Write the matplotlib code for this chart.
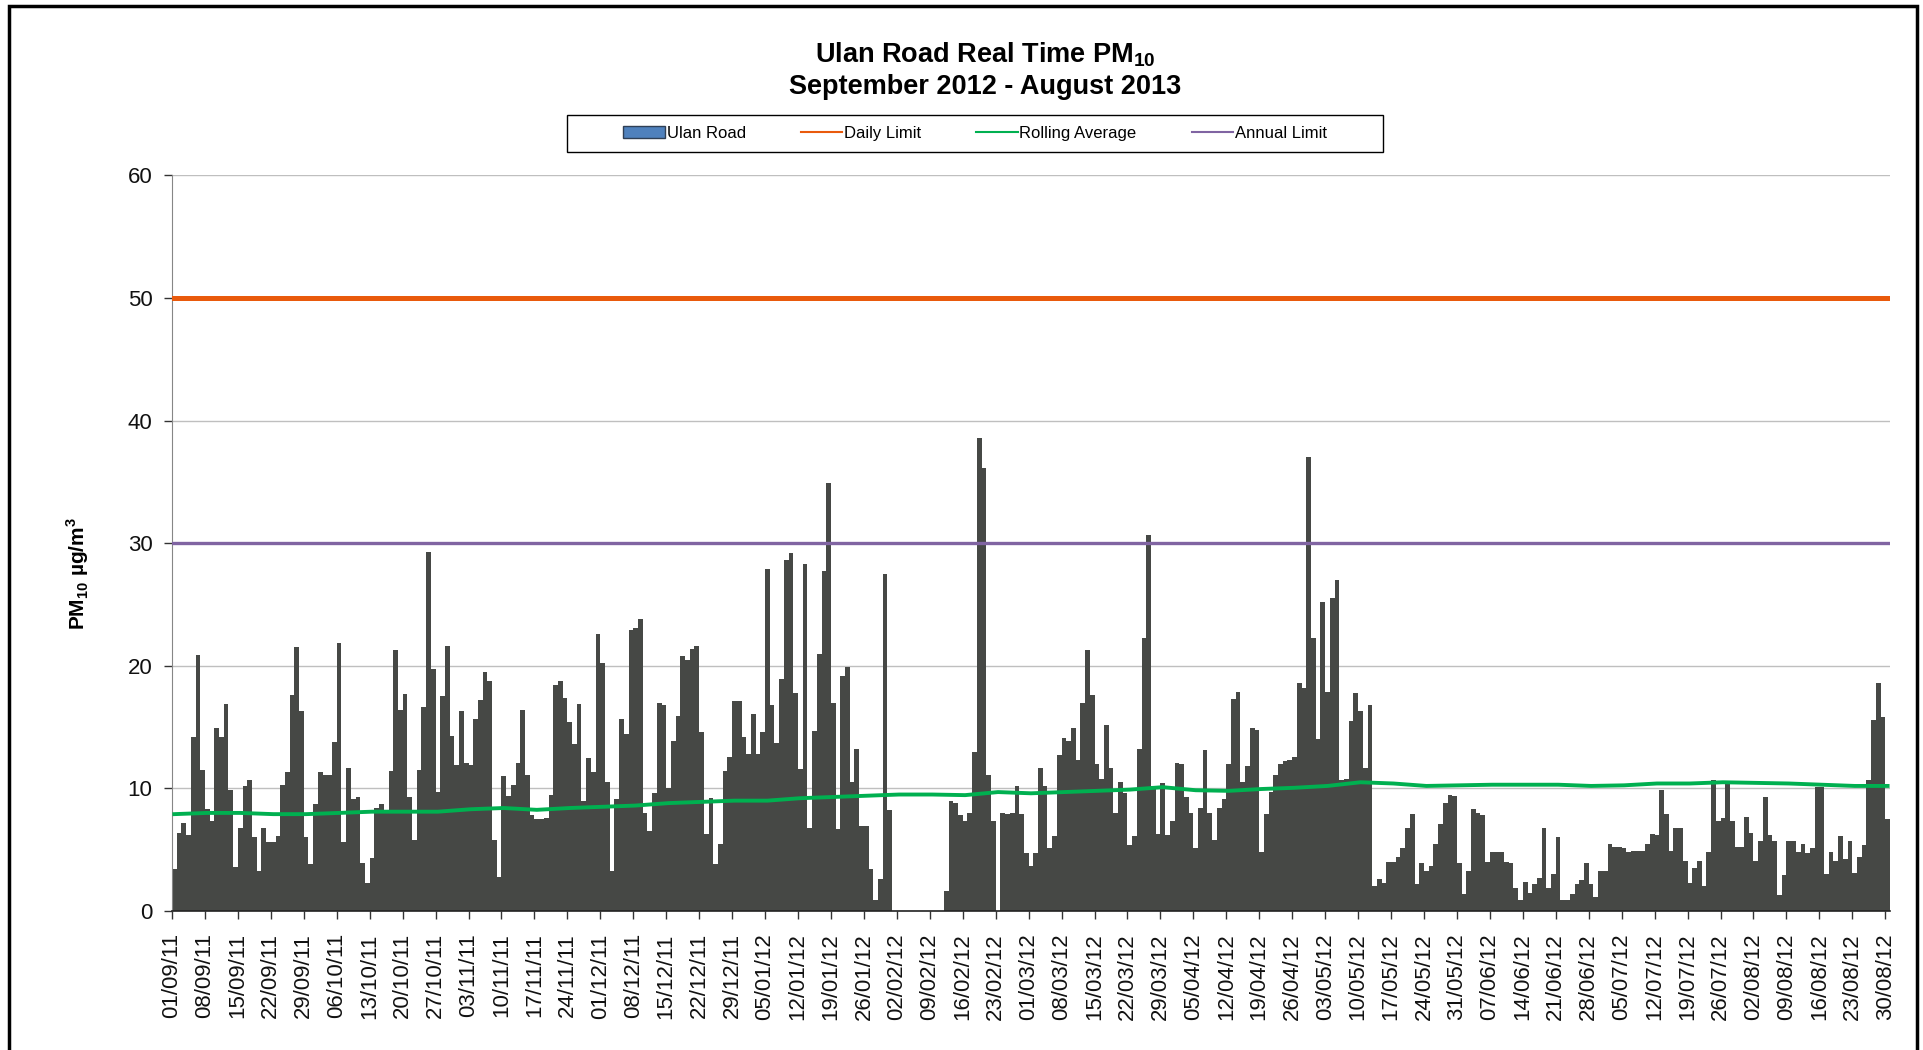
import numpy as np
import matplotlib
matplotlib.use("Agg")
from matplotlib import pyplot as plt
from matplotlib.patches import Rectangle, Patch
from matplotlib.lines import Line2D

plt.rcParams['font.family'] = ['Liberation Sans', 'DejaVu Sans']
plt.rcParams['mathtext.fontset'] = 'custom'
plt.rcParams['mathtext.rm'] = 'Liberation Sans'
plt.rcParams['mathtext.bf'] = 'Liberation Sans:bold'

nan = np.nan

# daily PM10 readings, 01/09/11 .. 30/08/12 (nan = no data)
ulan_road = [
    3.4, 6.4, 7.2, 6.2, 14.2, 20.9, 11.5, 8.3, 7.3, 14.9,
    14.2, 16.9, 9.9, 3.6, 6.8, 10.2, 10.7, 6.0, 3.3, 6.8,
    5.6, 5.6, 6.1, 10.3, 11.3, 17.6, 21.5, 16.3, 6.0, 3.8,
    8.7, 11.3, 11.1, 11.1, 13.8, 21.9, 5.6, 11.7, 9.1, 9.3,
    3.9, 2.3, 4.3, 8.4, 8.7, 8.0, 11.4, 21.3, 16.4, 17.7,
    9.3, 5.8, 11.5, 16.6, 29.3, 19.7, 9.7, 17.5, 21.6, 14.3,
    11.9, 16.3, 12.1, 11.9, 15.7, 17.2, 19.5, 18.8, 5.8, 2.8,
    11.0, 9.4, 10.3, 12.1, 16.4, 11.1, 7.8, 7.5, 7.5, 7.6,
    9.5, 18.4, 18.8, 17.4, 15.4, 13.6, 16.9, 9.0, 12.5, 11.3,
    22.6, 20.2, 10.5, 3.3, 9.1, 15.7, 14.4, 22.9, 23.1, 23.8,
    8.0, 6.5, 9.6, 17.0, 16.8, 10.0, 13.9, 15.9, 20.8, 20.5,
    21.4, 21.6, 14.6, 6.3, 9.2, 3.8, 5.5, 11.4, 12.6, 17.1,
    17.1, 14.2, 12.8, 16.1, 12.8, 14.6, 27.9, 16.8, 13.7, 18.9,
    28.6, 29.2, 17.8, 11.6, 28.3, 6.8, 14.7, 21.0, 27.7, 34.9,
    17.0, 6.7, 19.2, 19.9, 10.5, 13.2, 6.9, 6.9, 3.4, 0.9,
    2.6, 27.5, 8.2, nan, nan, nan, nan, nan, nan, nan,
    nan, nan, nan, nan, 1.6, 9.0, 8.8, 7.8, 7.3, 8.0,
    13.0, 38.6, 36.1, 11.1, 7.3, nan, 8.0, 7.9, 8.0, 10.2,
    7.9, 4.7, 3.7, 4.7, 11.7, 10.2, 5.1, 6.1, 12.7, 14.1,
    13.9, 14.9, 12.3, 17.0, 21.3, 17.6, 12.0, 10.8, 15.2, 11.7,
    8.0, 10.5, 9.6, 5.4, 6.1, 13.2, 22.3, 30.7, 10.2, 6.3,
    10.4, 6.2, 7.3, 12.1, 12.0, 9.3, 8.0, 5.1, 8.4, 13.1,
    8.0, 5.8, 8.4, 9.1, 12.0, 17.3, 17.9, 10.5, 11.8, 14.9,
    14.8, 4.8, 7.9, 9.7, 11.1, 12.0, 12.2, 12.3, 12.6, 18.6,
    18.2, 37.0, 22.3, 14.0, 25.2, 17.9, 25.5, 27.0, 10.7, 10.8,
    15.5, 17.8, 16.3, 11.7, 16.8, 2.0, 2.6, 2.3, 4.0, 4.0,
    4.4, 5.1, 6.8, 7.9, 2.2, 3.9, 3.3, 3.7, 5.5, 7.1,
    8.8, 9.5, 9.4, 3.9, 1.4, 3.3, 8.3, 8.0, 7.8, 4.0,
    4.8, 4.8, 4.8, 4.0, 3.9, 1.9, 0.9, 2.4, 1.5, 2.2,
    2.7, 6.8, 1.9, 3.0, 6.0, 0.9, 0.9, 1.4, 2.2, 2.5,
    3.9, 2.2, 1.1, 3.3, 3.3, 5.5, 5.2, 5.2, 5.1, 4.8,
    4.9, 4.9, 4.9, 5.5, 6.3, 6.2, 9.9, 7.9, 4.9, 6.8,
    6.8, 4.1, 2.3, 3.5, 4.1, 2.0, 4.8, 10.7, 7.3, 7.6,
    10.4, 7.3, 5.2, 5.2, 7.7, 6.4, 4.1, 5.7, 9.3, 6.2,
    5.7, 1.3, 2.9, 5.7, 5.7, 4.8, 5.5, 4.7, 5.1, 10.1,
    10.1, 3.0, 4.8, 4.1, 6.1, 4.2, 5.7, 3.1, 4.4, 5.4,
    10.7, 15.6, 18.6, 15.8, 7.5,
]

# rolling average read once a week (same days as the tick labels)
rolling_avg = [
    7.9, 8.0, 8.0, 7.9, 7.9, 8.0, 8.1, 8.1, 8.1, 8.3,
    8.4, 8.25, 8.4, 8.5, 8.6, 8.8, 8.9, 9.0, 9.0, 9.2,
    9.3, 9.4, 9.5, 9.5, 9.45, 9.7, 9.6, 9.7, 9.8, 9.9,
    10.1, 9.85, 9.8, 9.95, 10.05, 10.2, 10.5, 10.4, 10.2, 10.25,
    10.3, 10.3, 10.3, 10.2, 10.25, 10.4, 10.4, 10.5, 10.45, 10.4,
    10.3, 10.2, 10.2,
]

daily_limit = 50
annual_limit = 30

tick_labels = [
    "01/09/11", "08/09/11", "15/09/11", "22/09/11", "29/09/11", "06/10/11",
    "13/10/11", "20/10/11", "27/10/11", "03/11/11", "10/11/11", "17/11/11",
    "24/11/11", "01/12/11", "08/12/11", "15/12/11", "22/12/11", "29/12/11",
    "05/01/12", "12/01/12", "19/01/12", "26/01/12", "02/02/12", "09/02/12",
    "16/02/12", "23/02/12", "01/03/12", "08/03/12", "15/03/12", "22/03/12",
    "29/03/12", "05/04/12", "12/04/12", "19/04/12", "26/04/12", "03/05/12",
    "10/05/12", "17/05/12", "24/05/12", "31/05/12", "07/06/12", "14/06/12",
    "21/06/12", "28/06/12", "05/07/12", "12/07/12", "19/07/12", "26/07/12",
    "02/08/12", "09/08/12", "16/08/12", "23/08/12", "30/08/12",
]

days = np.arange(len(ulan_road))
ticks = np.arange(len(tick_labels)) * 7

fig = plt.figure(figsize=(19.24, 10.5), dpi=100)
ax = fig.add_axes([0.0894, 0.1324, 0.8929, 0.7005])

ax.bar(days, ulan_road, width=1.0, align='edge', color='#464845', linewidth=0, zorder=2)
ax.axhline(daily_limit, color='#E95A0C', lw=3.6, zorder=3)
ax.axhline(annual_limit, color='#8064A2', lw=2.4, zorder=3)
ax.plot(ticks + 0.5, rolling_avg, color='#00B050', lw=2.8, zorder=4)

ax.set_xlim(0, len(ulan_road))
ax.set_ylim(0, 60)
ax.set_yticks(range(0, 61, 10))
ax.set_xticks(ticks)
ax.set_xticklabels(tick_labels, rotation=90)
ax.grid(axis='y', color='#BFBFBF', lw=1, zorder=0)
ax.set_axisbelow(True)

for s in ['top', 'right']:
    ax.spines[s].set_visible(False)
ax.spines['left'].set_color('#868686')
ax.spines['bottom'].set_color('#222222')
ax.spines['bottom'].set_linewidth(1.2)
ax.tick_params(axis='both', direction='out', length=6, width=1, color='#333333',
               labelsize=16, labelcolor='#111111')
ax.tick_params(axis='x', pad=10)
ax.tick_params(axis='y', pad=8)

fig.text(0.512, 0.9476, r'Ulan Road Real Time PM$_{\mathbf{10}}$', ha='center', va='center',
         fontsize=19.5, fontweight='bold')
fig.text(0.512, 0.917, 'September 2012 - August 2013', ha='center', va='center',
         fontsize=19.5, fontweight='bold')
fig.text(0.0405, 0.454, r'PM$_{\mathbf{10}}$ µg/m$^{\mathbf{3}}$', rotation=90,
         ha='center', va='center', fontsize=15, fontweight='bold')

# legend
handles = [
    Patch(facecolor='#4F81BD', edgecolor='#2F3F55', lw=1),
    Line2D([], [], color='#E95A0C', lw=1.5),
    Line2D([], [], color='#00B050', lw=1.5),
    Line2D([], [], color='#8064A2', lw=1.5),
]
names = ['Ulan Road', 'Daily Limit', 'Rolling Average', 'Annual Limit']
fig.legend(handles, names, loc='center', bbox_to_anchor=(0.5068, 0.8729), ncol=4,
           frameon=False, fontsize=12, handlelength=2.5, handletextpad=0.1,
           columnspacing=3.3)
fig.patches.append(Rectangle((0.2947, 0.8552), 0.4241, 0.0352, transform=fig.transFigure,
                             fill=False, edgecolor='black', lw=1))

# outer chart border
fig.patches.append(Rectangle((9 / 1924, -0.05), 1908 / 1924, 1.05 - 6 / 1050,
                             transform=fig.transFigure, fill=False, edgecolor='black', lw=2.5))

fig.savefig('out.png', dpi=100)
